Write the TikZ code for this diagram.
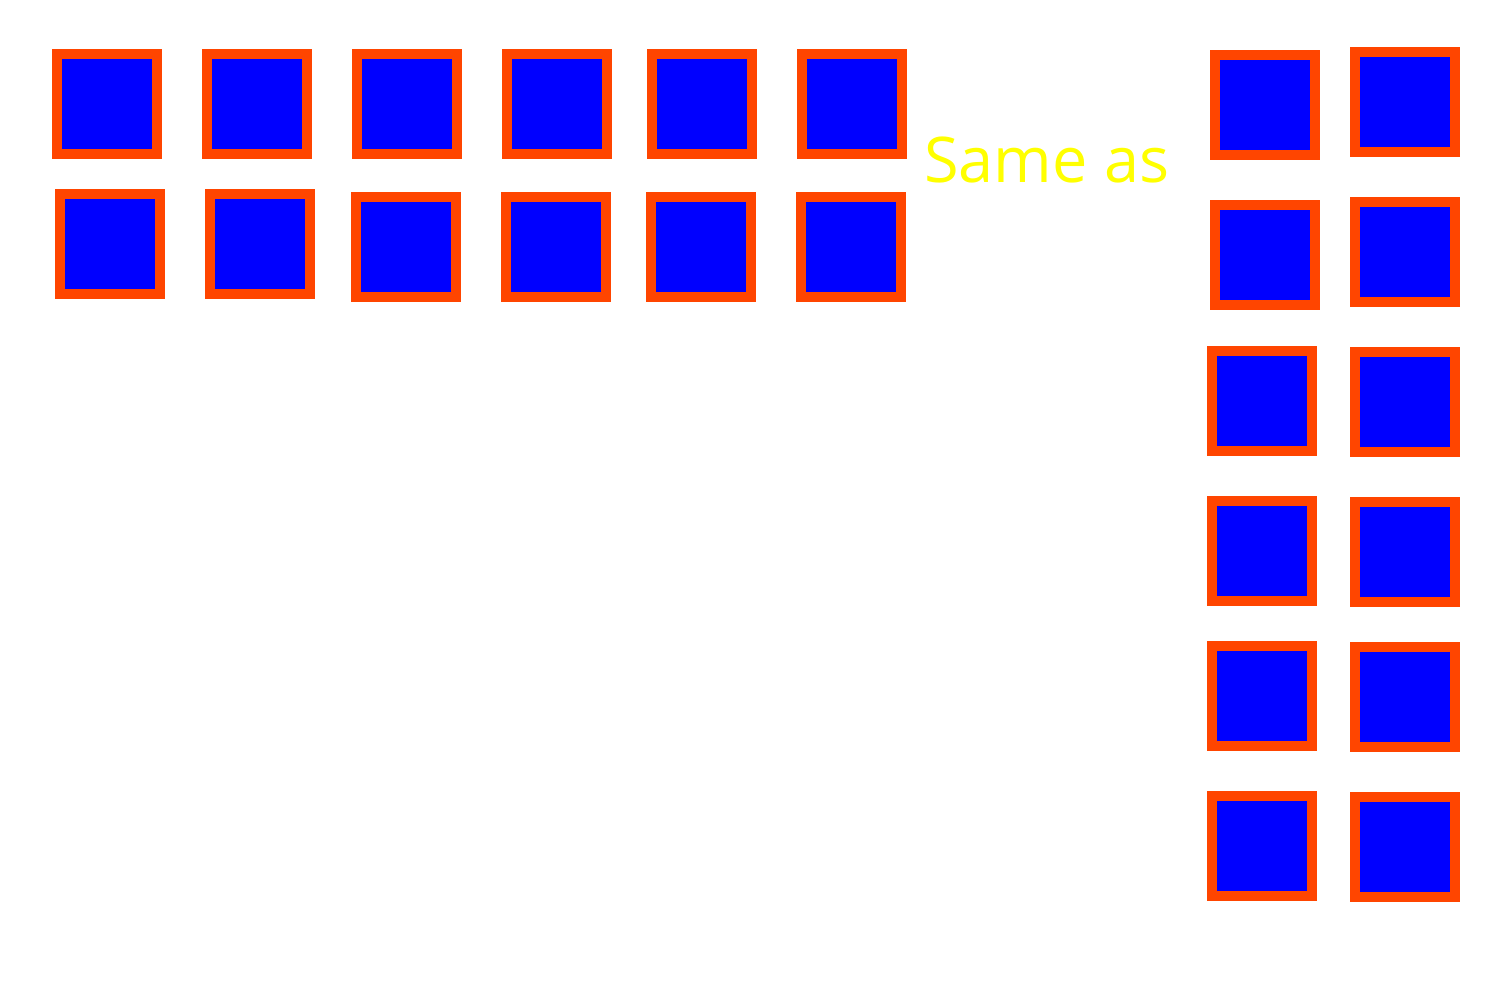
\documentclass[tikz,border=0pt]{standalone}
\usepackage{fontspec}
\setmainfont{Open Sans}
\definecolor{boxedge}{HTML}{FF4500}
\definecolor{boxfill}{HTML}{0000FF}
\definecolor{txtyellow}{HTML}{FFFF00}
\begin{document}
\begin{tikzpicture}[x=1pt,y=-1pt,
  tile/.style={draw=boxedge,fill=boxfill,line width=10pt,minimum width=100pt,minimum height=100pt,inner sep=0pt,outer sep=0pt}]
\useasboundingbox[fill=white] (0,0) rectangle (1500,1000);
% top row
\node[tile] (a1) at (107,104) {};
\node[tile] (a2) at (257,104) {};
\node[tile] (a3) at (407,104) {};
\node[tile] (a4) at (557,104) {};
\node[tile] (a5) at (702,104) {};
\node[tile] (a6) at (852,104) {};
% second row
\node[tile] (b1) at (110,244) {};
\node[tile] (b2) at (260,244) {};
\node[tile] (b3) at (406,247) {};
\node[tile] (b4) at (556,247) {};
\node[tile] (b5) at (701,247) {};
\node[tile] (b6) at (851,247) {};
% right columns
\node[tile] (c1) at (1264.5,105.3) {};
\node[tile] (c2) at (1264.5,255.3) {};
\node[tile] (c3) at (1261.5,401) {};
\node[tile] (c4) at (1261.5,551) {};
\node[tile] (c5) at (1261.5,696) {};
\node[tile] (c6) at (1261.5,846) {};
\node[tile] (d1) at (1404.5,102.3) {};
\node[tile] (d2) at (1404.5,252.3) {};
\node[tile] (d3) at (1404.5,402.3) {};
\node[tile] (d4) at (1404.5,552.3) {};
\node[tile] (d5) at (1404.5,697.3) {};
\node[tile] (d6) at (1404.5,847.3) {};
% label
\node[anchor=base west,inner sep=0pt,text=txtyellow,font=\fontsize{63pt}{63pt}\selectfont] (lbl) at (924,183) {Same as};
\end{tikzpicture}
\end{document}
